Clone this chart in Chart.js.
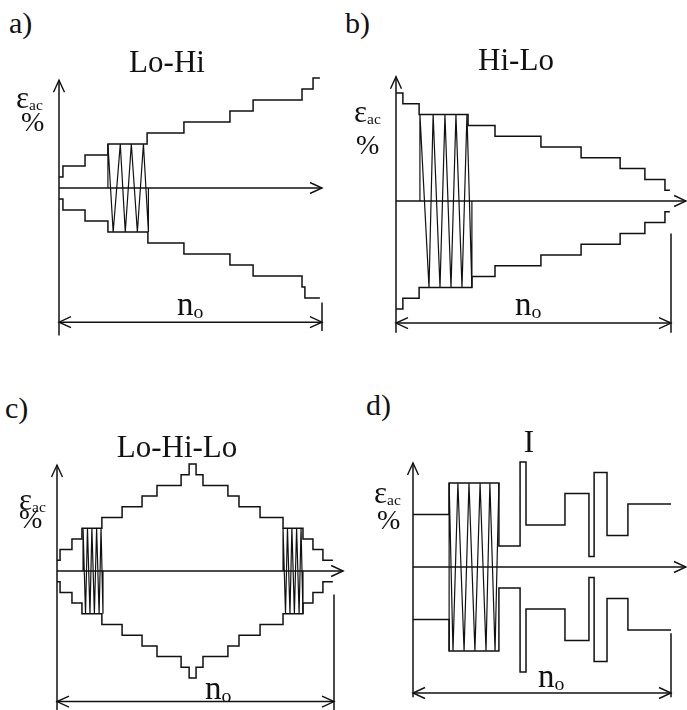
<!DOCTYPE html>
<html>
<head>
<meta charset="utf-8">
<script src="https://cdn.jsdelivr.net/npm/chart.js@4.4.0/dist/chart.umd.min.js"></script>
<style>
body { margin: 0; background: #fff; }
#page { position: relative; width: 687px; height: 710px; overflow: hidden; background: #fff;
        font-family: "Liberation Serif", "Times New Roman", serif; color: #111; }
#page canvas { position: absolute; }
.t { position: absolute; line-height: 1; white-space: nowrap; }
.t sub { font-size: 0.52em; vertical-align: -0.14em; }
</style>
</head>
<body>
<div id="page"></div>
<script>
// x = share of the block length n_o (0..100), y = strain amplitude level

// a) Lo-Hi
const aUpperX = [0, 1.5, 9.9, 18.6, 33.5, 47.5, 65.0, 73.8, 92.4, 96.6, 99.2];
const aUpperY = [1, 2, 3, 4, 5, 6, 7, 8, 9, 10, 10];
const aLowerX = [0, 1.5, 9.9, 18.6, 33.8, 47.5, 65.0, 73.8, 92.4, 93.5, 99.2];
const aLowerY = [-1, -2, -3, -4, -5, -6, -7, -8, -9, -10, -10];
const aCycleX = [18.6, 18.6, 20.6, 23.3, 25.2, 27.5, 29.8, 32.1, 34.0, 34.0];
const aCycleY = [0, 4, -4, 4, -4, 4, -4, 4, -4, 0];

// b) Hi-Lo
const bUpperX = [0, 2.5, 8.4, 26.2, 36.0, 52.7, 67.3, 81.5, 90.5, 97.8, 99.6];
const bUpperY = [10, 9, 8, 7, 6, 5, 4, 3, 2, 1, 1];
const bLowerX = [0, 2.5, 8.4, 27.6, 36.0, 52.7, 67.3, 81.5, 90.5, 97.8, 99.6];
const bLowerY = [-10, -9, -8, -7, -6, -5, -4, -3, -2, -1, -1];
const bCycleX = [8.7, 8.7, 12.0, 13.5, 16.0, 17.8, 20.0, 21.8, 24.0, 25.8, 27.6, 27.6];
const bCycleY = [0, 8, -8, 8, -8, 8, -8, 8, -8, 8, -8, 0];

// c) Lo-Hi-Lo
const cStepX = [0, 1.1, 5.4, 9.0, 16.2, 23.5, 30.7, 36.1, 44.8, 47.7, 50.2, 52.7, 61.7, 65.7, 73.3, 81.6, 88.8, 92.4, 96.0, 99.6];
const cUpperY = [1, 2, 3, 4, 5, 6, 7, 8, 9, 10, 9, 8, 7, 6, 5, 4, 3, 2, 1, 1];
const cLowerY = [-1, -2, -3, -4, -5, -6, -7, -8, -9, -10, -9, -8, -7, -6, -5, -4, -3, -2, -1, -1];
const cCycle1X = [9.4, 9.4, 10.3, 11.0, 11.9, 12.6, 13.5, 14.3, 15.2, 15.9, 16.6, 16.6];
const cCycle2X = [81.6, 81.6, 82.5, 83.2, 84.1, 84.8, 85.7, 86.5, 87.4, 88.1, 88.8, 88.8];
const cCycleY = [0, 4, -4, 4, -4, 4, -4, 4, -4, 4, -4, 0];

// d) I (random order)
const dStepX = [0, 14.0, 33.3, 41.5, 43.8, 58.9, 68.2, 70.2, 75.2, 83.3, 100];
const dUpperY = [5, 8, 2, 10, 4, 7, 1, 9, 3, 6, 6];
const dLowerY = [-5, -8, -2, -10, -4, -7, -1, -9, -3, -6, -6];
const dCycleX = [14.0, 14.0, 15.5, 17.4, 19.8, 21.7, 24.0, 26.0, 28.3, 29.8, 31.8, 33.3];
const dCycleY = [-8, 8, -8, 8, -8, 8, -8, 8, -8, 8, -8, 8];

const INK = '#111';

// box = canvas [left, top, width, height]; origin = pixel of (0,0); xLen = pixels for n_o; unit = pixels per level
const panels = [
  { box: [0, 60, 343, 290], origin: [59, 188], xLen: 263, unit: 11,
    upper: [aUpperX, aUpperY], lower: [aLowerX, aLowerY], cycles: [[aCycleX, aCycleY]],
    yAxis: [-13.4, 9.8], xTip: 100, noY: -12.2, tick: [-10.4, -13] },
  { box: [343, 60, 344, 290], origin: [396, 201], xLen: 275, unit: 10.8,
    upper: [bUpperX, bUpperY], lower: [bLowerX, bLowerY], cycles: [[bCycleX, bCycleY]],
    yAxis: [-12.2, 11.5], xTip: 105.5, noY: -11.3, tick: [-3.0, -12.2] },
  { box: [0, 440, 350, 270], origin: [57, 571], xLen: 277, unit: 10.7,
    upper: [cStepX, cUpperY], lower: [cStepX, cLowerY], cycles: [[cCycle1X, cCycleY], [cCycle2X, cCycleY]],
    yAxis: [-13.5, 9.9], xTip: 103.3, noY: -12.2, tick: [-2.2, -13.5] },
  { box: [343, 440, 344, 270], origin: [413, 567], xLen: 258, unit: 10.5,
    upper: [dStepX, dUpperY], lower: [dStepX, dLowerY], cycles: [[dCycleX, dCycleY]],
    yAxis: [-12.4, 9.9], xTip: 105.8, noY: -12.0, tick: [-6.3, -12.4] }
];

const zip = (xs, ys) => xs.map((x, i) => ({ x: x, y: ys[i] }));
const seg = (pts, extra) => Object.assign({ data: pts, showLine: true, borderColor: INK,
  borderWidth: 1.5, pointRadius: 0, fill: false, tension: 0 }, extra || {});

// open arrow heads at the axis tips and at both ends of n_o
const arrowHeads = {
  id: 'arrowHeads',
  afterDatasetsDraw(chart) {
    const p = chart.options.plugins.arrowHeads;
    const xs = chart.scales.x, ys = chart.scales.y, ctx = chart.ctx;
    ctx.save();
    ctx.strokeStyle = INK;
    ctx.lineWidth = 1.4;
    p.heads.forEach(h => {
      const px = xs.getPixelForValue(h.x), py = ys.getPixelForValue(h.y);
      const L = 12, W = 5.5;
      ctx.beginPath();
      if (h.dir === 'up') { ctx.moveTo(px - W, py + L); ctx.lineTo(px, py); ctx.lineTo(px + W, py + L); }
      if (h.dir === 'right') { ctx.moveTo(px - L, py - W); ctx.lineTo(px, py); ctx.lineTo(px - L, py + W); }
      if (h.dir === 'left') { ctx.moveTo(px + L, py - W); ctx.lineTo(px, py); ctx.lineTo(px + L, py + W); }
      ctx.stroke();
    });
    ctx.restore();
  }
};

const page = document.getElementById('page');

panels.forEach(p => {
  const [L, T, W, H] = p.box;
  const ppu = p.xLen / 100;
  const cv = document.createElement('canvas');
  cv.width = W; cv.height = H;
  cv.style.left = L + 'px'; cv.style.top = T + 'px';
  cv.style.width = W + 'px'; cv.style.height = H + 'px';
  page.appendChild(cv);

  const datasets = [
    seg([{ x: 0, y: p.yAxis[0] }, { x: 0, y: p.yAxis[1] }]),
    seg([{ x: 0, y: 0 }, { x: p.xTip, y: 0 }]),
    seg([{ x: 0, y: p.noY }, { x: 100, y: p.noY }]),
    seg([{ x: 100, y: p.tick[0] }, { x: 100, y: p.tick[1] }]),
    seg(zip(p.upper[0], p.upper[1]), { stepped: true }),
    seg(zip(p.lower[0], p.lower[1]), { stepped: true })
  ];
  p.cycles.forEach(c => datasets.push(seg(zip(c[0], c[1]), { borderWidth: 1.2 })));

  new Chart(cv, {
    type: 'scatter',
    data: { datasets: datasets },
    options: {
      responsive: false,
      animation: false,
      devicePixelRatio: 1,
      layout: { padding: 0 },
      events: [],
      scales: {
        x: { type: 'linear', display: false,
             min: (L - p.origin[0]) / ppu, max: (L + W - p.origin[0]) / ppu },
        y: { type: 'linear', display: false,
             min: (p.origin[1] - (T + H)) / p.unit, max: (p.origin[1] - T) / p.unit }
      },
      plugins: {
        legend: { display: false },
        tooltip: { enabled: false },
        arrowHeads: { heads: [
          { x: 0, y: p.yAxis[1], dir: 'up' },
          { x: p.xTip, y: 0, dir: 'right' },
          { x: 0, y: p.noY, dir: 'left' },
          { x: 100, y: p.noY, dir: 'right' }
        ] }
      }
    },
    plugins: [arrowHeads]
  });
});

// text labels, positioned by baseline (Liberation Serif, line-height 1)
function label(html, x, base, size, center) {
  const d = document.createElement('div');
  d.className = 't';
  d.innerHTML = html;
  d.style.fontSize = size + 'px';
  d.style.top = (base - 0.8375 * size) + 'px';
  d.style.left = x + 'px';
  if (center) d.style.transform = 'translateX(-50%)';
  page.appendChild(d);
}

label('a)', 9, 33, 30);
label('b)', 345, 33, 30);
label('c)', 5, 418, 30);
label('d)', 366, 415, 30);
label('Lo-Hi', 167, 72, 31, true);
label('Hi-Lo', 516, 70, 31, true);
label('Lo-Hi-Lo', 177, 457, 31, true);
label('I', 529, 452, 31, true);

const eps = 'ε<sub style="font-size:0.5em">ac</sub>';
label(eps, 16, 108, 31); label('%', 21, 131, 28);
label(eps, 354, 122, 31); label('%', 356, 154, 28);
label(eps, 19, 510, 31); label('%', 19, 528, 28);
label(eps, 374, 503, 31); label('%', 377, 529, 28);

const nO = 'n<sub style="font-size:0.6em">o</sub>';
label(nO, 177, 316, 33);
label(nO, 515, 316, 33);
label(nO, 205, 700, 33);
label(nO, 538, 688, 33);
</script>
</body>
</html>
